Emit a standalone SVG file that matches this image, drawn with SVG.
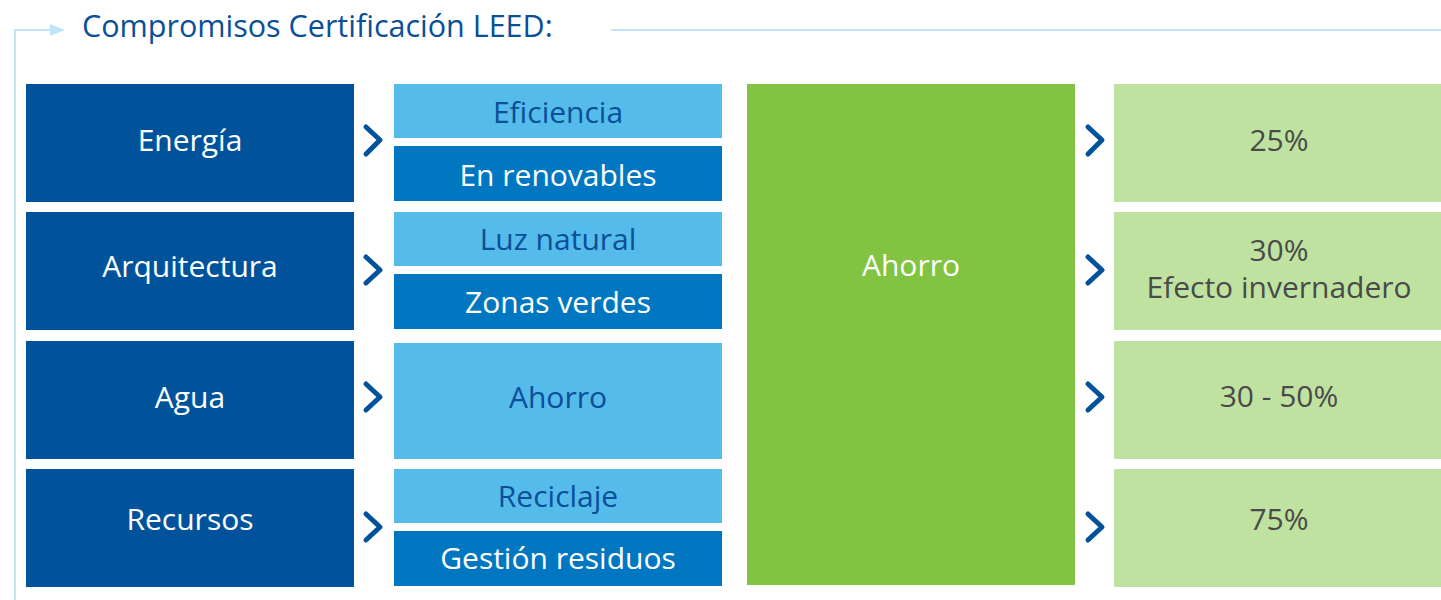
<svg xmlns="http://www.w3.org/2000/svg" width="1441" height="600" viewBox="0 0 1441 600">
<defs>
<style>
text{font-family:"Open Sans","DejaVu Sans",sans-serif;text-anchor:middle;font-size:30px}
.dk{fill:#00539b}
.lb{fill:#55bbea}
.mb{fill:#0077c0}
.gr{fill:#82c341}
.lg{fill:#c0e2a0}
.tw{fill:#ffffff}
.tb{fill:#0a4f98}
.tg{fill:#4a4a4a}
.chev{fill:none;stroke:#00539b;stroke-width:5;stroke-linecap:round;stroke-linejoin:round}
.frame{fill:none;stroke:#c2e4f8;stroke-width:2}
</style>
</defs>
<rect width="1441" height="600" fill="#ffffff"/>
<g id="header">
<polyline class="frame" points="15,600 15,30 52,30"/>
<polygon points="50,24 65,30 50,36" fill="#c2e4f8"/>
<line class="frame" x1="611" y1="30" x2="1441" y2="30"/>
<text x="82" y="37" style="text-anchor:start;font-size:30.5px" class="tb">Compromisos Certificación LEED:</text>
</g>
<g id="energia"><rect class="dk" x="26" y="84" width="328" height="118"/><text class="tw" x="190" y="151">Energía</text></g>
<g id="arquitectura"><rect class="dk" x="26" y="212" width="328" height="118"/><text class="tw" x="190" y="277">Arquitectura</text></g>
<g id="agua"><rect class="dk" x="26" y="341" width="328" height="118"/><text class="tw" x="190" y="408">Agua</text></g>
<g id="recursos"><rect class="dk" x="26" y="469" width="328" height="118"/><text class="tw" x="190" y="530">Recursos</text></g>
<g id="eficiencia"><rect class="lb" x="394" y="84" width="328" height="54"/><text class="tb" x="558" y="123">Eficiencia</text></g>
<g id="renovables"><rect class="mb" x="394" y="146" width="328" height="55"/><text class="tw" x="558" y="186">En renovables</text></g>
<g id="luz"><rect class="lb" x="394" y="212" width="328" height="54"/><text class="tb" x="558" y="250">Luz natural</text></g>
<g id="zonas"><rect class="mb" x="394" y="274" width="328" height="55"/><text class="tw" x="558" y="313">Zonas verdes</text></g>
<g id="ahorro-agua"><rect class="lb" x="394" y="343" width="328" height="116"/><text class="tb" x="558" y="408">Ahorro</text></g>
<g id="reciclaje"><rect class="lb" x="394" y="469" width="328" height="54"/><text class="tb" x="558" y="507">Reciclaje</text></g>
<g id="gestion"><rect class="mb" x="394" y="531" width="328" height="55"/><text class="tw" x="558" y="569">Gestión residuos</text></g>
<g id="ahorro"><rect class="gr" x="747" y="84" width="328" height="501"/><text class="tw" x="911" y="276">Ahorro</text></g>
<g id="r25"><rect class="lg" x="1114" y="84" width="327" height="118"/><text class="tg" x="1279" y="151">25%</text></g>
<g id="r30"><rect class="lg" x="1114" y="212" width="327" height="118"/><text class="tg" x="1279" y="261">30%</text><text class="tg" x="1279" y="298">Efecto invernadero</text></g>
<g id="r3050"><rect class="lg" x="1114" y="341" width="327" height="118"/><text class="tg" x="1279" y="407">30 - 50%</text></g>
<g id="r75"><rect class="lg" x="1114" y="469" width="327" height="118"/><text class="tg" x="1279" y="530">75%</text></g>
<g id="connectors">
<polyline class="chev" points="366,127 380,140 366,154"/>
<polyline class="chev" points="366,257 380,270 366,283"/>
<polyline class="chev" points="366,384 380,397 366,410"/>
<polyline class="chev" points="366,514 380,527 366,540"/>
<polyline class="chev" points="1088,127 1102,140 1088,154"/>
<polyline class="chev" points="1088,257 1102,270 1088,283"/>
<polyline class="chev" points="1088,384 1102,397 1088,410"/>
<polyline class="chev" points="1088,514 1102,527 1088,540"/>
</g>
</svg>
